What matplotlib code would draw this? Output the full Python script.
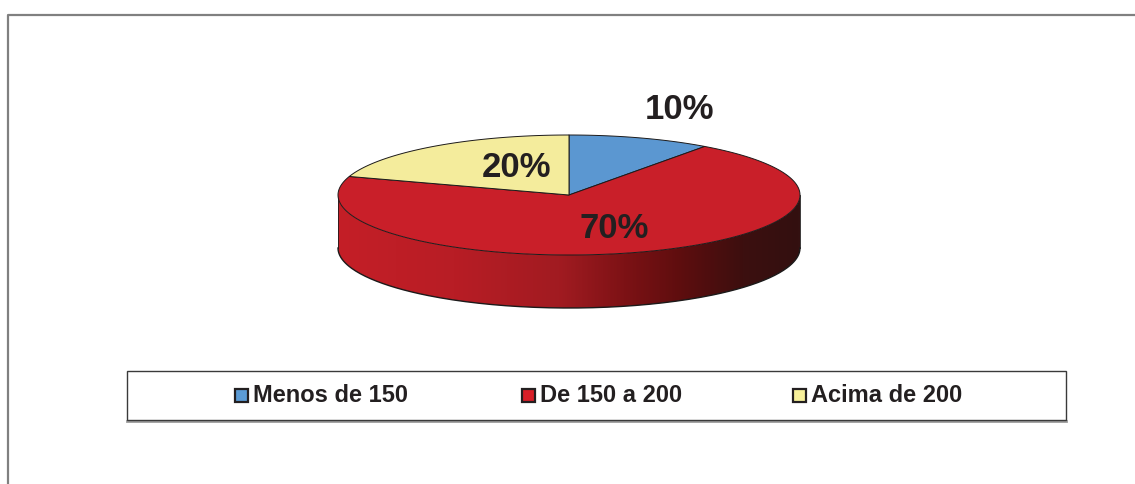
import numpy as np
import matplotlib
matplotlib.use("Agg")
import matplotlib.pyplot as plt
from matplotlib.patches import Polygon, Rectangle
from matplotlib.colors import LinearSegmentedColormap

plt.rcParams['font.family'] = ['Liberation Sans', 'DejaVu Sans']

# data
categories = ["Menos de 150", "De 150 a 200", "Acima de 200"]
shares = [10, 70, 20]
top_colors = ["#5b97d1", "#c91f29", "#f4ec9c"]
legend_colors = ["#5b9bd5", "#d81f28", "#f7f09a"]

W, H = 1135, 484
fig = plt.figure(figsize=(W / 100, H / 100), dpi=100)
ax = fig.add_axes([0, 0, 1, 1])
ax.set_xlim(0, W)
ax.set_ylim(H, 0)
ax.axis("off")

# outer chart frame (runs off the right and bottom edges)
ax.plot([8, 8, W + 5], [H + 5, 15, 15], color="#808080", lw=1.6, solid_capstyle="butt")

# pie geometry in pixel coords
cx, cy = 569, 195
a, b = 231, 60
depth = 53
edge = "#1c1a1a"


def ell(t, dy=0.0):
    t = np.radians(t)
    return np.column_stack([cx + a * np.cos(t), cy - b * np.sin(t) + dy])


# side wall (front half), shaded left to right
front = np.linspace(180, 360, 200)
side = np.vstack([ell(front), ell(front[::-1], depth)])
side_patch = Polygon(side, closed=True, facecolor="none", edgecolor="none")
ax.add_patch(side_patch)
side_cmap = LinearSegmentedColormap.from_list("side", [
    (0.00, "#c41f27"),
    (0.25, "#b81d25"),
    (0.48, "#a11b21"),
    (0.62, "#7d1215"),
    (0.75, "#5c0d0e"),
    (0.88, "#3c0f0f"),
    (1.00, "#331010"),
])
grad = np.linspace(0, 1, 400).reshape(1, -1)
img = ax.imshow(grad, cmap=side_cmap, extent=[cx - a, cx + a, cy + depth + b + 2, cy - 2],
                aspect="auto", zorder=2)
img.set_clip_path(side_patch)
ax.plot(*ell(front, depth).T, color=edge, lw=1.0, zorder=3)
ax.plot([cx - a, cx - a], [cy, cy + depth], color=edge, lw=0.6, zorder=3)
ax.plot([cx + a, cx + a], [cy, cy + depth], color=edge, lw=0.6, zorder=3)

# top face wedges, clockwise from 12 o'clock
total = float(sum(shares))
start = 90.0
mids = []
for val, col in zip(shares, top_colors):
    sweep = 360.0 * val / total
    ts = np.linspace(start, start - sweep, 200)
    pts = np.vstack([[cx, cy], ell(ts)])
    ax.add_patch(Polygon(pts, closed=True, facecolor=col, edgecolor=edge,
                         lw=0.7, zorder=4, joinstyle="round"))
    mids.append(start - sweep / 2)
    start -= sweep

# percentage labels (radial factors per slice, x and y)
label_r = [(1.55, 1.49), (0.63, 0.58), (0.39, 0.56)]
for val, mid, (rx, ry) in zip(shares, mids, label_r):
    t = np.radians(mid)
    lx = cx + a * rx * np.cos(t)
    ly = cy - b * ry * np.sin(t)
    ax.text(lx, ly, f"{val / total:.0%}", fontsize=25, fontweight="bold",
            color="#231f20", ha="center", va="center", zorder=6)

# legend box
ax.plot([127, 1066], [421, 421], color="#9a9a9a", lw=2.0, zorder=5)
ax.add_patch(Rectangle((127, 371), 939, 49, facecolor="white", edgecolor="#3a3a3a",
                       lw=1.0, zorder=5))
marker_x = [234, 521, 792]
for x0, name, col in zip(marker_x, categories, legend_colors):
    ax.add_patch(Rectangle((x0 + 1, 388.5), 13, 13, facecolor=col, edgecolor="#231f20",
                           lw=1.6, zorder=6))
    ax.text(x0 + 19, 396, name, fontsize=17, fontweight="bold", color="#231f20",
            ha="left", va="center", zorder=6)

fig.savefig("out.png", dpi=100, facecolor="white")
